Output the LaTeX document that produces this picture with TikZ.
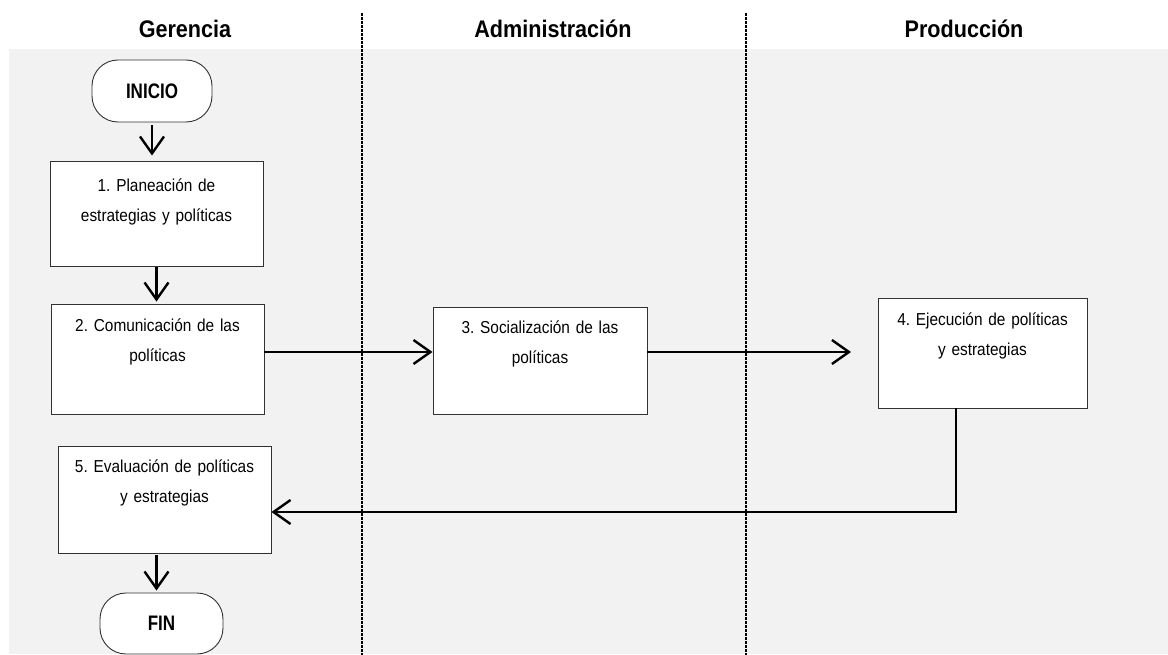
\documentclass[tikz,border=0pt]{standalone}
\usepackage{fontspec}
\usetikzlibrary{arrows.meta}
\setmainfont{Liberation Sans}
\newfontfamily\stepfont[FakeStretch=0.89, WordSpace=0.8]{Liberation Sans}
\newfontfamily\termfont[FakeStretch=0.81]{Liberation Sans}
\newfontfamily\headfont[FakeStretch=0.9]{Liberation Sans}
\definecolor{lanebg}{RGB}{242,242,242}
\definecolor{edge}{RGB}{50,50,50}
\tikzset{
  lanetitle/.style={font=\headfont\bfseries\fontsize{24}{28}\selectfont, inner sep=0pt},
  divider/.style={line width=1.3pt, dash pattern=on 3pt off 1pt},
  stepbox/.style={draw=edge, line width=0.9pt, fill=white, rectangle, inner sep=0pt},
  steptext/.style={font=\stepfont\fontsize{17.3}{30}\selectfont\frenchspacing,
    text width=205pt, align=center, inner sep=0pt, anchor=base},
  terminal/.style={draw=edge, line width=0.9pt, fill=white, rectangle, rounded corners=26pt,
    inner sep=0pt, font=\termfont\bfseries\fontsize{21}{24}\selectfont},
  flow/.style={line width=2.4pt, -{Straight Barb[length=17pt,width=24pt]}}
}
\begin{document}
\begin{tikzpicture}[x=1pt,y=-1pt]
  \useasboundingbox (0,0) rectangle (1168,655);
  % swimlane background
  \fill[lanebg] (9,49) rectangle (1168,654);
  % lane titles
  \node[lanetitle] (h1) at (185,29) {Gerencia};
  \node[lanetitle] (h2) at (553,29) {Administración};
  \node[lanetitle] (h3) at (964,29) {Producción};
  % lane dividers
  \draw[divider] (362,13) -- (362,655);
  \draw[divider] (746,13) -- (746,655);

  % terminals
  \node[terminal, minimum width=120pt, minimum height=62pt] (inicio) at (152,91) {INICIO};
  \node[terminal, minimum width=123pt, minimum height=61pt] (fin) at (161.5,623.5) {FIN};

  % process steps
  \node[stepbox, minimum width=213pt, minimum height=105pt] (b1) at (156.5,213.5) {};
  \node[stepbox, minimum width=213pt, minimum height=110pt] (b2) at (157.5,359) {};
  \node[stepbox, minimum width=214pt, minimum height=107pt] (b3) at (540,360.5) {};
  \node[stepbox, minimum width=209pt, minimum height=110pt] (b4) at (982.5,353) {};
  \node[stepbox, minimum width=213pt, minimum height=107pt] (b5) at (164.5,499.5) {};

  \node[steptext] (t1) at ([yshift=-31pt]b1.north) {1. Planeación de\\estrategias y políticas};
  \node[steptext] (t2) at ([yshift=-28pt]b2.north) {2. Comunicación de las\\políticas};
  \node[steptext] (t3) at ([yshift=-27pt]b3.north) {3. Socialización de las\\políticas};
  \node[steptext] (t4) at ([yshift=-28pt]b4.north) {4. Ejecución de políticas\\y estrategias};
  \node[steptext] (t5) at ([yshift=-27pt]b5.north) {5. Evaluación de políticas\\y estrategias};

  % connectors
  \draw[flow, shorten <=3pt, shorten >=5pt] (inicio.south) -- (inicio.south |- b1.north);
  \draw[flow, shorten <=1pt, shorten >=2pt] (b1.south) -- (b1.south |- b2.north);
  \coordinate (f5) at ([xshift=-8pt]b5.south);
  \draw[flow, shorten <=2pt, shorten >=2pt] (f5) -- (f5 |- fin.north);

  \coordinate (r2) at ([yshift=7pt]b2.east);
  \draw[flow] (r2) -- (r2 -| b3.west);
  \coordinate (r3) at ([yshift=8.5pt]b3.east);
  \coordinate (in4) at (851,352);
  \draw[flow] (r3) -- (in4);

  \coordinate (d4) at ([xshift=-26.5pt]b4.south);
  \coordinate (in5) at ([yshift=-12.5pt]b5.east);
  \draw[flow] (d4) |- (in5);
\end{tikzpicture}
\end{document}
